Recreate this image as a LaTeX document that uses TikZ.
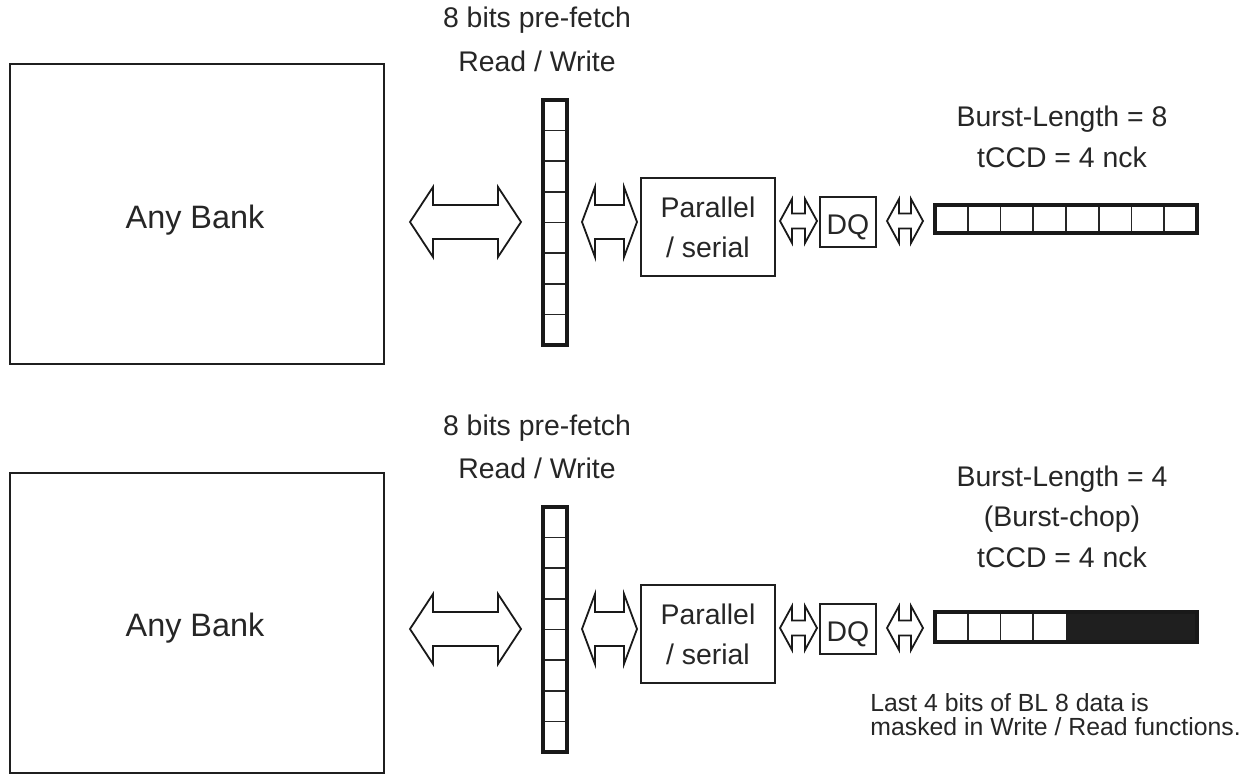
\documentclass[tikz,border=0pt]{standalone}
\usepackage{fontspec}
\setmainfont{Liberation Sans}
\newcommand\blockarr[6]{% x1 x2 yc headlen headhalf shafthalf
  \draw[blockarrow] (#1,#3) -- (#1+#4,#3-#5) -- (#1+#4,#3-#6) -- (#2-#4,#3-#6) -- (#2-#4,#3-#5) -- (#2,#3)
    -- (#2-#4,#3+#5) -- (#2-#4,#3+#6) -- (#1+#4,#3+#6) -- (#1+#4,#3+#5) -- cycle;}
\begin{document}
\begin{tikzpicture}[x=0.5pt,y=-0.5pt,
  box/.style={draw=black!88, line width=0.9pt, inner sep=0pt},
  outline/.style={draw=black!90, line width=1.8pt},
  cellline/.style={draw=black!85, line width=0.85pt},
  lbl/.style={font=\fontsize{14.2}{22}\selectfont, text=black!85, inner sep=0pt, anchor=base},
  banklbl/.style={font=\fontsize{16.2}{22}\selectfont, text=black!85, inner sep=0pt, anchor=base},
  note/.style={font=\fontsize{12.4}{14}\selectfont, text=black!85, inner sep=0pt, anchor=base west},
  blockarrow/.style={draw=black!90, line width=0.9pt, fill=white, line join=miter}]
\useasboundingbox (0,0) rectangle (1254,774);

% ---------------- top panel ----------------
\node[box, minimum width=187pt, minimum height=150pt] (bank1) at (197,214) {};
\node[banklbl] (bank1t) at (195,229) {Any Bank};
\node[lbl] (pf1) at (537,28) {8 bits pre-fetch};
\node[lbl] (rw1) at (537,72) {Read / Write};
\node[inner sep=0pt, minimum width=12pt, minimum height=122.5pt] (col1) at (555,222.5) {};
\foreach \i in {1,...,7} \draw[cellline] (543,{100+\i*30.625}) -- (567,{100+\i*30.625});
\draw[outline] (543,100) rectangle (567,345);
\node[box, minimum width=67pt, minimum height=49pt] (ps1) at (708,227) {};
\node[lbl] at (708,218) {Parallel};
\node[lbl] at (708,258) {/ serial};
\node[box, minimum width=28pt, minimum height=25pt] (dq1) at (848,222) {};
\node[lbl] at (848,235) {DQ};
\node[lbl] (bl1) at (1062,127) {Burst-Length = 8};
\node[lbl] (tc1) at (1062,168) {tCCD = 4 nck};
\node[inner sep=0pt, minimum width=131pt, minimum height=14pt] (row1) at (1066,219) {};
\foreach \i in {1,...,7} \draw[cellline] ({935+\i*32.75},205) -- ({935+\i*32.75},233);
\draw[outline] (935,205) rectangle (1197,233);
\blockarr{410}{521}{222}{23}{35}{17}
\blockarr{582}{637}{222}{13}{35}{17}
\blockarr{780}{817}{221}{12}{22}{7.5}
\blockarr{887}{923}{221}{12}{22}{7.5}

% ---------------- bottom panel ----------------
\begin{scope}[shift={(0,407)}]
\node[box, minimum width=187pt, minimum height=150pt] (bank2) at (197,216) {};
\node[banklbl] (bank2t) at (195,230) {Any Bank};
\node[lbl] (pf2) at (537,29) {8 bits pre-fetch};
\node[lbl] (rw2) at (537,72) {Read / Write};
\node[inner sep=0pt, minimum width=12pt, minimum height=122.5pt] (col2) at (555,222.5) {};
\foreach \i in {1,...,7} \draw[cellline] (543,{100+\i*30.625}) -- (567,{100+\i*30.625});
\draw[outline] (543,100) rectangle (567,345);
\node[box, minimum width=67pt, minimum height=49pt] (ps2) at (708,227) {};
\node[lbl] at (708,218) {Parallel};
\node[lbl] at (708,258) {/ serial};
\node[box, minimum width=28pt, minimum height=25pt] (dq2) at (848,222) {};
\node[lbl] at (848,235) {DQ};
\node[lbl] (bl2) at (1062,80) {Burst-Length = 4};
\node[lbl] (bc2) at (1062,120) {(Burst-chop)};
\node[lbl] (tc2) at (1062,161) {tCCD = 4 nck};
\node[inner sep=0pt, minimum width=131pt, minimum height=14pt] (row2) at (1066,219) {};
\fill[black!88] (1066,205) rectangle (1197,235);
\foreach \i in {1,...,3} \draw[cellline] ({935+\i*32.75},205) -- ({935+\i*32.75},235);
\draw[outline] (935,205) rectangle (1197,235);
\blockarr{410}{521}{222}{23}{35}{17}
\blockarr{582}{637}{222}{13}{35}{17}
\blockarr{780}{817}{221}{12}{22}{7.5}
\blockarr{887}{923}{221}{12}{22}{7.5}
\node[note] (n1) at (870,305) {Last 4 bits of BL 8 data is};
\node[note] (n2) at (870,329) {masked in Write / Read functions.};
\end{scope}
\end{tikzpicture}
\end{document}
